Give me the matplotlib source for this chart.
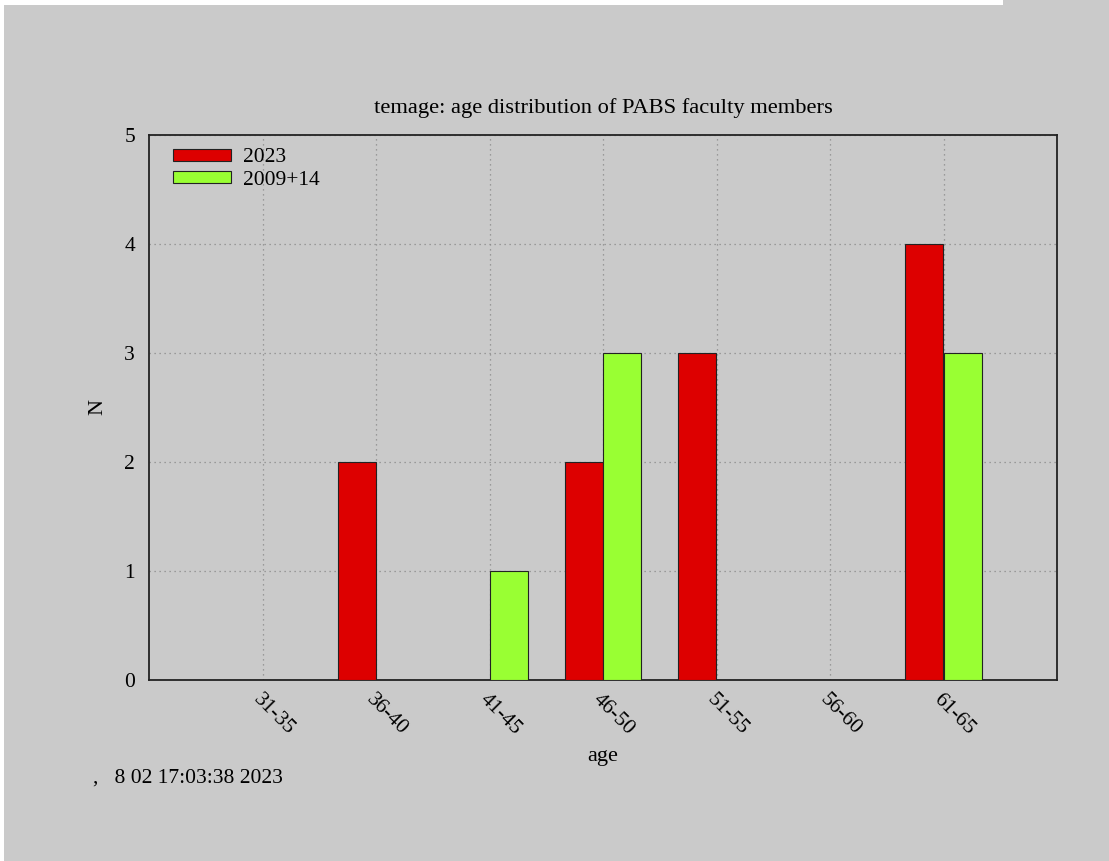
import numpy as np
import matplotlib
matplotlib.use('Agg')
import matplotlib.pyplot as plt
from matplotlib.patches import Rectangle

plt.rcParams.update({'font.family': 'Liberation Serif', 'font.size': 15})

# data
age_groups = ['31-35', '36-40', '41-45', '46-50', '51-55', '56-60', '61-65']
n_2023     = [0, 2, 0, 2, 3, 0, 4]
n_2009     = [0, 0, 1, 3, 0, 0, 3]
series_labels = ['2023', '2009+14']

BG = '#cacaca'
fig = plt.figure(figsize=(11.09, 8.61), dpi=100, facecolor=BG)
# white margins of the original screenshot
fig.patches.append(Rectangle((0, 1 - 5/861), 1003/1109, 5/861, transform=fig.transFigure,
                             facecolor='white', edgecolor='none', zorder=0))
fig.patches.append(Rectangle((0, 0), 4/1109, 1, transform=fig.transFigure,
                             facecolor='white', edgecolor='none', zorder=0))

ax = fig.add_axes([149/1109, 1 - 680/861, 908/1109, 545/861])
ax.set_facecolor(BG)

x = np.arange(1, len(age_groups) + 1)
w = 0.335
ax.bar(x - w/2, n_2023, width=w, color='#dd0000', edgecolor='#222222', linewidth=0.8,
       label=series_labels[0], zorder=3)
ax.bar(x + w/2, n_2009, width=w, color='#99ff33', edgecolor='#222222', linewidth=0.8,
       label=series_labels[1], zorder=3)

ax.set_xlim(0, len(age_groups) + 1)
ax.set_ylim(0, 5)
ax.set_yticks(range(0, 6))
ax.set_xticks(x)
ax.set_xticklabels(age_groups, rotation=-45, ha='left', va='top', rotation_mode='anchor')
ax.tick_params(axis='both', direction='in', length=0, labelsize=15.5)
ax.tick_params(axis='x', pad=7)
ax.tick_params(axis='y', pad=10)
ax.grid(True, linestyle=(0, (1, 3)), color='#8a8a8a', linewidth=0.9, zorder=0)
for s in ax.spines.values():
    s.set_linewidth(1.3)
    s.set_color('#222222')

ax.set_title('temage: age distribution of PABS faculty members', fontsize=16.2, pad=16)
ax.set_xlabel('age', fontsize=16, labelpad=6)
ax.set_ylabel('N', fontsize=16, labelpad=12)

leg = ax.legend(loc='upper left', frameon=False, fontsize=15.5, handlelength=2.7,
                handleheight=0.45, handletextpad=0.55, borderaxespad=0.3, labelspacing=0.15,
                bbox_to_anchor=(0.01, 1.003))

fig.text(93/1109, 1 - 778/861, ',   8 02 17:03:38 2023', fontsize=15.5, va='center', ha='left')

fig.savefig('out.png', dpi=100, facecolor=BG)
